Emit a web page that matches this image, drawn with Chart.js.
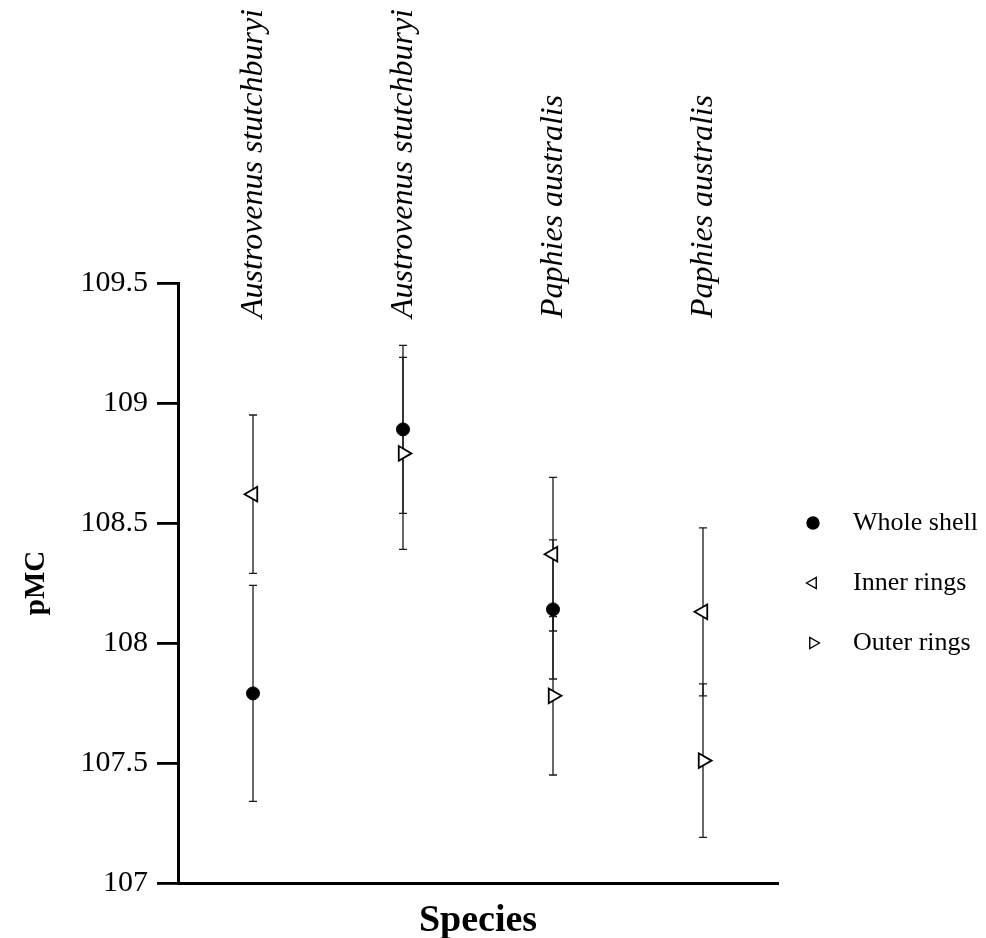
<!DOCTYPE html>
<html>
<head>
<meta charset="utf-8">
<script src="https://cdn.jsdelivr.net/npm/chart.js@4.4.1/dist/chart.umd.min.js"></script>
<style>
html,body{margin:0;padding:0;background:#fff;}
canvas{display:block;}
</style>
</head>
<body>
<canvas id="c" width="986" height="938"></canvas>
<script>
// ---- data ----
const categories = ['Austrovenus stutchburyi', 'Austrovenus stutchburyi', 'Paphies australis', 'Paphies australis'];
const seriesNames = ['Whole shell', 'Inner rings', 'Outer rings'];
const wholeShell    = [107.79, 108.89, 108.14, null];
const wholeShellErr = [0.45,   0.35,   0.29,   null];
const innerRings    = [108.62, null,   108.37, 108.13];
const innerRingsErr = [0.33,   null,   0.32,   0.35];
const outerRings    = [null,   108.79, 107.78, 107.51];
const outerRingsErr = [null,   0.40,   0.33,   0.32];
const yTickValues = [107, 107.5, 108, 108.5, 109, 109.5];

const SERIF = '"Liberation Serif", "Times New Roman", serif';

const errorBars = {
  id: 'errorBars',
  beforeDatasetsDraw(chart) {
    const {ctx, scales: {x, y}} = chart;
    ctx.save();
    ctx.strokeStyle = '#1a1a1a';
    ctx.lineWidth = 1.3;
    chart.data.datasets.forEach(ds => {
      ds.data.forEach((v, i) => {
        const e = ds.errors[i];
        if (v == null || e == null) return;
        const px = x.getPixelForValue(i);
        const yt = y.getPixelForValue(v + e);
        const yb = y.getPixelForValue(v - e);
        ctx.beginPath();
        ctx.moveTo(px, yt); ctx.lineTo(px, yb);
        ctx.moveTo(px - 4, yt); ctx.lineTo(px + 4, yt);
        ctx.moveTo(px - 4, yb); ctx.lineTo(px + 4, yb);
        ctx.stroke();
      });
    });
    ctx.restore();
  }
};

const speciesLabels = {
  id: 'speciesLabels',
  afterDraw(chart) {
    const {ctx, chartArea, scales: {x}} = chart;
    ctx.save();
    ctx.font = 'italic 32px ' + SERIF;
    ctx.fillStyle = '#000';
    ctx.textAlign = 'left';
    ctx.textBaseline = 'middle';
    categories.forEach((c, i) => {
      const px = x.getPixelForValue(i);
      ctx.save();
      ctx.translate(px + 1, chartArea.top + 35);
      ctx.rotate(-Math.PI / 2);
      ctx.fillText(c, 0, 0);
      ctx.restore();
    });
    ctx.restore();
  }
};

const legendRadius = [6, 6.5, 6.5];
const customLegend = {
  id: 'customLegend',
  afterDraw(chart) {
    const {ctx, chartArea} = chart;
    const cy = (chartArea.top + chartArea.bottom) / 2;
    const mx = chartArea.right + 35;
    ctx.save();
    chart.data.datasets.forEach((ds, i) => {
      const yy = cy + (i - 1) * 60;
      ctx.fillStyle = ds.pointBackgroundColor;
      ctx.strokeStyle = ds.pointBorderColor;
      ctx.lineWidth = 1.4;
      Chart.helpers.drawPoint(ctx, {
        pointStyle: ds.pointStyle,
        rotation: ds.pointRotation || 0,
        radius: legendRadius[i],
        borderWidth: 1.4
      }, mx, yy);
      ctx.fillStyle = '#000';
      ctx.font = '26px ' + SERIF;
      ctx.textAlign = 'left';
      ctx.textBaseline = 'middle';
      ctx.fillText(ds.label, chartArea.right + 75, yy);
    });
    ctx.restore();
  }
};

new Chart(document.getElementById('c'), {
  type: 'line',
  data: {
    labels: categories,
    datasets: [
      {
        label: seriesNames[0], data: wholeShell, errors: wholeShellErr,
        showLine: false, pointStyle: 'circle', pointRadius: 6.5,
        pointBackgroundColor: '#000', pointBorderColor: '#000', pointBorderWidth: 1
      },
      {
        label: seriesNames[1], data: innerRings, errors: innerRingsErr,
        showLine: false, pointStyle: 'triangle', pointRotation: -90, pointRadius: 8.5,
        pointBackgroundColor: '#fff', pointBorderColor: '#000', pointBorderWidth: 1.8
      },
      {
        label: seriesNames[2], data: outerRings, errors: outerRingsErr,
        showLine: false, pointStyle: 'triangle', pointRotation: 90, pointRadius: 8.5,
        pointBackgroundColor: '#fff', pointBorderColor: '#000', pointBorderWidth: 1.8
      }
    ]
  },
  options: {
    responsive: false,
    animation: false,
    events: [],
    layout: {padding: {top: 283, right: 208, left: 0, bottom: 0}},
    plugins: {legend: {display: false}, tooltip: {enabled: false}},
    scales: {
      x: {
        type: 'category',
        offset: true,
        grid: {display: false, drawTicks: false},
        border: {display: true, color: '#000', width: 3},
        ticks: {display: false},
        title: {
          display: true, text: 'Species', color: '#000',
          font: {family: SERIF, size: 38, weight: 'bold'},
          padding: {top: 0, bottom: -6}
        },
        afterFit(s) { s.height = 55; }
      },
      y: {
        type: 'linear',
        min: 107, max: 109.5,
        afterBuildTicks(s) { s.ticks = yTickValues.map(v => ({value: v})); },
        grid: {drawOnChartArea: false, drawTicks: true, tickLength: 21, color: '#000', lineWidth: 2.8},
        border: {display: true, color: '#000', width: 3},
        ticks: {
          color: '#000', padding: 9,
          font: {family: SERIF, size: 30},
          callback: v => String(v)
        },
        title: {
          display: true, text: 'pMC', color: '#000',
          font: {family: SERIF, size: 29, weight: 'bold'},
          padding: {top: 19, bottom: 0}
        },
        afterFit(s) { s.width = 178; }
      }
    }
  },
  plugins: [errorBars, speciesLabels, customLegend]
});
</script>
</body>
</html>
